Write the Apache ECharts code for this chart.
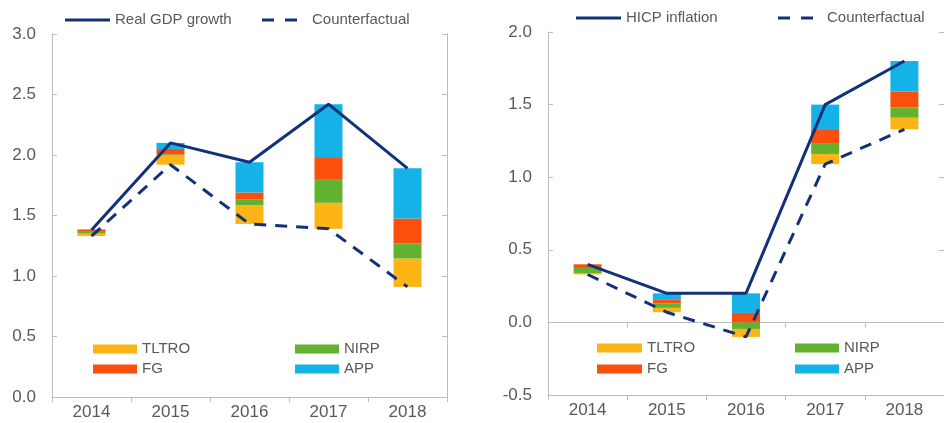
<!DOCTYPE html>
<html>
<head>
<meta charset="utf-8">
<script src="https://cdn.jsdelivr.net/npm/echarts@6/dist/echarts.min.js"></script>
<style>
html,body{margin:0;padding:0;background:#fff;}
#c{width:944px;height:423px;}
</style>
</head>
<body>
<div id="c"></div>
<script>
// ---- data ----
const years = ['2014', '2015', '2016', '2017', '2018'];

// left panel: real GDP growth
const gdpGrowth = [1.38, 2.10, 1.94, 2.42, 1.89];
const gdpCounterfactual = [1.33, 1.92, 1.43, 1.39, 0.91];
const gdpTLTRO = [0.02, 0.075, 0.155, 0.215, 0.235];
const gdpNIRP = [0.015, 0.01, 0.05, 0.19, 0.125];
const gdpFG = [0.02, 0.045, 0.055, 0.18, 0.205];
const gdpAPP = [0.0, 0.05, 0.25, 0.445, 0.415];

// right panel: HICP inflation
const hicpInflation = [0.40, 0.20, 0.20, 1.50, 1.80];
const hicpCounterfactual = [0.33, 0.07, -0.10, 1.09, 1.33];
const hicpTLTRO = [0.01, 0.03, 0.055, 0.07, 0.08];
const hicpNIRP = [0.035, 0.03, 0.045, 0.07, 0.07];
const hicpFG = [0.025, 0.025, 0.065, 0.095, 0.11];
const hicpAPP = [0.0, 0.045, 0.135, 0.175, 0.21];

const leftTicks = { min: 0, max: 3, interval: 0.5 };
const rightTicks = { min: -0.5, max: 2, interval: 0.5 };

// ---- styles ----
const FONT = '"Liberation Sans", Arial, sans-serif';
const TXT = '#595959';
const AX = '#bcbcbc';
const NAVY = '#13307a';
const C = { TLTRO: '#fdb515', NIRP: '#62b22f', FG: '#fb4f0e', APP: '#15b2e8' };

const chart = echarts.init(document.getElementById('c'), null, { renderer: 'canvas' });

function yAxes(gridIndex, t) {
  const common = {
    type: 'value', gridIndex, min: t.min, max: t.max, interval: t.interval,
    splitLine: { show: false },
    axisLine: { show: true, onZero: false, lineStyle: { color: AX, width: 1 } },
    axisTick: { show: true, inside: true, length: 5, lineStyle: { color: AX } }
  };
  return [
    Object.assign({}, common, {
      position: 'left',
      axisLabel: { show: true, color: TXT, fontSize: 17, fontFamily: FONT, margin: 16,
        formatter: v => v.toFixed(1) }
    }),
    Object.assign({}, common, { position: 'right', axisLabel: { show: false } })
  ];
}

function xAxisMain(gridIndex) {
  return {
    type: 'category', gridIndex, data: years, position: 'bottom',
    axisLine: { show: true, onZero: false, lineStyle: { color: AX, width: 1 } },
    axisTick: { show: true, length: 5, lineStyle: { color: AX } },
    axisLabel: { color: TXT, fontSize: 17, fontFamily: FONT, margin: 7 }
  };
}

function barSeries(prefix, xi, yi, base, parts) {
  const stack = prefix + 'stack';
  const out = [{
    name: prefix + 'base', type: 'bar', xAxisIndex: xi, yAxisIndex: yi, stack,
    stackStrategy: 'all', data: base, barWidth: 28, silent: true,
    itemStyle: { color: 'rgba(0,0,0,0)' }
  }];
  parts.forEach(p => {
    out.push({
      name: p.name, type: 'bar', xAxisIndex: xi, yAxisIndex: yi, stack,
      stackStrategy: 'all', data: p.data, barWidth: 28,
      itemStyle: { color: C[p.name] }
    });
  });
  return out;
}

function lineSeries(name, xi, yi, data, dashed) {
  return {
    name, type: 'line', xAxisIndex: xi, yAxisIndex: yi, data, z: 5,
    symbol: 'none', showSymbol: false, color: NAVY,
    lineStyle: { color: NAVY, width: 3, type: dashed ? [12, 9] : 'solid' }
  };
}

const DASH_ICON = 'path://M0,0H12V3H0Z M23,0H35V3H23Z';

function legendItem(name, left, top, icon, w, h, extraPad) {
  return {
    data: [{ name, icon }], left, top, padding: 0, itemWidth: w, itemHeight: h,
    selectedMode: false, itemGap: 0,
    itemStyle: { borderWidth: 0 },
    lineStyle: { width: 0 },
    textStyle: { color: TXT, fontSize: 15, fontFamily: FONT, lineHeight: 18,
      padding: [0, 0, 0, extraPad || 0] }
  };
}

const option = {
  animation: false,
  backgroundColor: '#ffffff',
  grid: [
    { left: 52, top: 34, width: 395, height: 363, containLabel: false },
    { left: 548, top: 32, width: 400, height: 363, containLabel: false }
  ],
  xAxis: [
    xAxisMain(0),
    xAxisMain(1),
    {
      type: 'category', gridIndex: 1, data: years, position: 'top',
      axisLine: { show: true, onZero: true, lineStyle: { color: AX, width: 1 } },
      axisTick: { show: true, inside: true, length: 5, lineStyle: { color: AX } },
      axisLabel: { show: false }
    }
  ],
  yAxis: [].concat(yAxes(0, leftTicks), yAxes(1, rightTicks)),
  legend: [
    legendItem('Real GDP growth', 65, 11, 'rect', 45, 3),
    legendItem('Counterfactual', 262, 11, DASH_ICON, 35, 3, 10),
    legendItem('HICP inflation', 576, 9, 'rect', 45, 3),
    legendItem('Counterfactual', 778, 9, DASH_ICON, 35, 3, 9),
    legendItem('TLTRO', 93, 340, 'rect', 44, 9),
    legendItem('FG', 93, 360, 'rect', 44, 9),
    legendItem('NIRP', 295, 340, 'rect', 44, 9),
    legendItem('APP', 295, 360, 'rect', 44, 9),
    legendItem('TLTRO', 597, 339, 'rect', 45, 9),
    legendItem('FG', 597, 360, 'rect', 45, 9),
    legendItem('NIRP', 795, 339, 'rect', 44, 9),
    legendItem('APP', 795, 360, 'rect', 44, 9)
  ],
  series: [].concat(
    barSeries('L', 0, 0, gdpCounterfactual, [
      { name: 'TLTRO', data: gdpTLTRO },
      { name: 'NIRP', data: gdpNIRP },
      { name: 'FG', data: gdpFG },
      { name: 'APP', data: gdpAPP }
    ]),
    [lineSeries('Real GDP growth', 0, 0, gdpGrowth, false),
     lineSeries('Counterfactual', 0, 0, gdpCounterfactual, true)],
    barSeries('R', 1, 2, hicpCounterfactual, [
      { name: 'TLTRO', data: hicpTLTRO },
      { name: 'NIRP', data: hicpNIRP },
      { name: 'FG', data: hicpFG },
      { name: 'APP', data: hicpAPP }
    ]),
    [lineSeries('HICP inflation', 1, 2, hicpInflation, false),
     lineSeries('Counterfactual', 1, 2, hicpCounterfactual, true)]
  )
};

chart.setOption(option);
</script>
</body>
</html>
